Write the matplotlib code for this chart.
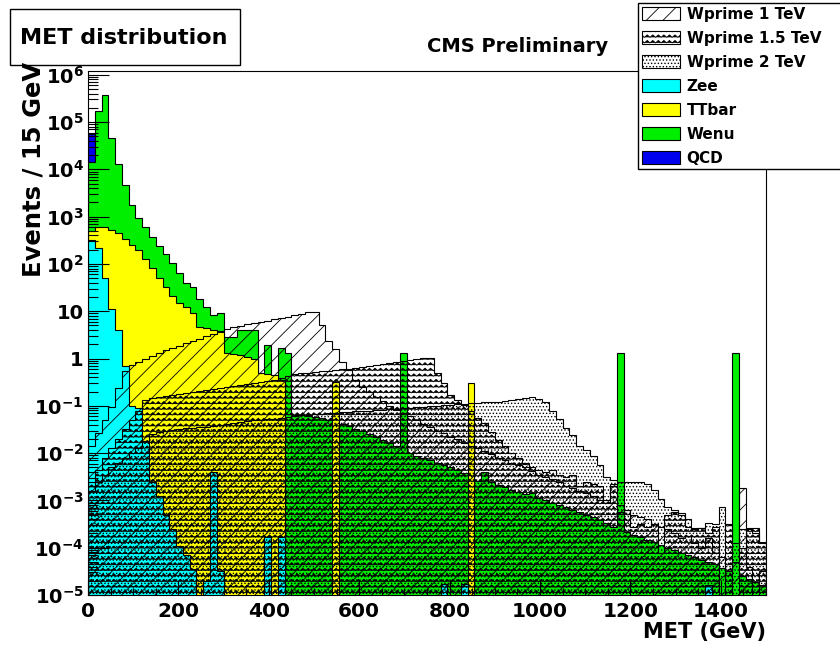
import numpy as np
import matplotlib
matplotlib.use("Agg")
import matplotlib.pyplot as plt
import matplotlib.hatch as mhatch
from matplotlib.path import Path
from matplotlib.patches import Patch, Rectangle
from matplotlib.ticker import FixedLocator, LogLocator, NullFormatter, MultipleLocator

# ---------------- data ----------------
met_low, met_high, n_bins = 0, 1500, 100

wenu = [1.4e4, 1.7e5, 3.8e5, 4.7e4, 1.3e4, 4.7e3, 1.8e3, 950, 600, 380,
        240, 160, 105, 63, 40, 32, 18, 12, 8.5, 9.3,
        2.9, 2.9, 4.1, 4.1, 4.1, 0.25, 1.95, 0.25, 1.7, 1.3,
        0.065, 0.063, 0.060, 0.058, 0.054, 0.050, 0.046, 0.042, 0.037, 0.033,
        0.029, 0.025, 0.022, 0.019, 0.016, 0.0138, 1.3, 0.010, 8.9e-3, 7.9e-3,
        7.1e-3, 6.3e-3, 5.6e-3, 5.0e-3, 4.4e-3, 3.8e-3, 3.3e-3, 2.6e-3, 4.0e-3, 2.4e-3,
        2.1e-3, 1.9e-3, 1.7e-3, 1.5e-3, 1.35e-3, 1.45e-3, 1.12e-3, 1.0e-3, 8.9e-4, 7.9e-4,
        7.1e-4, 6.3e-4, 5.6e-4, 5.0e-4, 4.5e-4, 3.8e-4, 3.3e-4, 2.8e-4, 1.3, 2.1e-4,
        1.9e-4, 1.66e-4, 1.48e-4, 1.32e-4, 1.12e-4, 1.0e-4, 8.9e-5, 7.9e-5, 7.1e-5, 6.3e-5,
        5.6e-5, 5.0e-5, 4.5e-5, 3.8e-5, 3.2e-5, 1.3, 2.5e-5, 2.2e-5, 1.9e-5, 1.6e-5]

ttbar = [500, 590, 590, 525, 450, 335, 255, 195, 125, 83,
         51, 33, 21, 15, 12, 9.3, 4.7, 4.5, 4.1, 3.7,
         1.3, 1.26, 1.2, 1.1, 1.0, 0.5, 0.48, 0.44, 0.35, 0,
         0, 0, 0, 0, 0, 0, 0.32, 0, 0, 0,
         0, 0, 0, 0, 0, 0, 0, 0, 0, 0,
         0, 0, 0, 0, 0, 0, 0.30, 0, 0, 0,
         0, 0, 0, 0, 0, 0, 0, 0, 0, 0,
         0, 0, 0, 0, 0, 0, 0, 0, 0, 0,
         0, 0, 0, 0, 0, 0, 0, 0, 0, 0,
         0, 0, 0, 0, 0, 0, 0, 0, 0, 0]

zee = [316, 220, 51, 11, 4.0, 0.7, 0.1, 0.09, 0.018, 2.5e-3,
       1.26e-3, 5.0e-4, 2.5e-4, 1.1e-4, 7.0e-5, 3.5e-5, 0, 2.0e-5, 4.0e-3, 3.2e-5,
       0, 0, 0, 0, 0, 0, 1.7e-4, 0, 1.7e-4, 0,
       0, 0, 0, 0, 0, 0, 0, 0, 0, 0,
       0, 0, 0, 0, 0, 0, 0, 0, 0, 0,
       0, 0, 1.7e-5, 0, 0, 1.7e-5, 0, 0, 0, 0,
       0, 0, 0, 0, 0, 0, 0, 0, 0, 0,
       0, 0, 0, 0, 0, 0, 0, 0, 0, 0,
       0, 0, 0, 0, 0, 0, 0, 0, 0, 0,
       0, 1.6e-5, 0, 0, 0, 0, 0, 0, 0, 0]

qcd = [5.6e4, 0, 0, 0, 0, 0, 0, 0, 0, 0,
       0, 0, 0, 0, 0, 0, 0, 0, 0, 0,
       0, 0, 0, 0, 0, 0, 0, 0, 0, 0,
       0, 0, 0, 0, 0, 0, 0, 0, 0, 0,
       0, 0, 0, 0, 0, 0, 0, 0, 0, 0,
       0, 0, 0, 0, 0, 0, 0, 0, 0, 0,
       0, 0, 0, 0, 0, 0, 0, 0, 0, 0,
       0, 0, 0, 0, 0, 0, 0, 0, 0, 0,
       0, 0, 0, 0, 0, 0, 0, 0, 0, 0,
       0, 0, 0, 0, 0, 0, 0, 0, 0, 0]

wprime_1 = [0.0138, 0.027, 0.051, 0.095, 0.24, 0.55, 0.74, 0.85, 0.98, 1.12,
            1.29, 1.48, 1.66, 1.86, 2.09, 2.34, 2.63, 2.95, 3.31, 3.8,
            4.27, 4.57, 4.9, 5.25, 5.62, 6.0, 6.3, 6.76, 7.24, 7.59,
            8.13, 8.9, 9.5, 9.8, 5.0, 2.4, 1.58, 0.83, 0.58, 0.355,
            0.25, 0.2, 0.15, 0.126, 0.1, 0.083, 0.071, 0.06, 0.05, 0.042,
            0.035, 0.03, 0.026, 0.022, 0.02, 0.0166, 0.0141, 0.0126, 0.011, 9.5e-3,
            7.9e-3, 7.1e-3, 6.3e-3, 5.6e-3, 5.0e-3, 4.2e-3, 3.5e-3, 3.2e-3, 2.8e-3, 2.4e-3,
            2.0e-3, 1.8e-3, 1.6e-3, 1.4e-3, 1.26e-3, 1.0e-3, 8.9e-4, 2.2e-3, 7.9e-4, 6.3e-4,
            5.0e-4, 4.5e-4, 4.0e-4, 3.2e-4, 2.8e-4, 2.5e-4, 2.0e-4, 1.6e-4, 1.8e-4, 1.26e-4,
            1.0e-4, 1.6e-4, 7.9e-5, 6.3e-5, 0, 5.0e-5, 1.8e-3, 4.0e-5, 0, 3.2e-5]

wprime_15 = [2.5e-3, 4.5e-3, 7.9e-3, 0.0126, 0.02, 0.032, 0.05, 0.079, 0.132, 0.145,
             0.151, 0.158, 0.166, 0.178, 0.186, 0.195, 0.204, 0.214, 0.224, 0.234,
             0.251, 0.263, 0.275, 0.288, 0.302, 0.316, 0.339, 0.355, 0.38, 0.417,
             0.48, 0.5, 0.5, 0.525, 0.537, 0.55, 0.562, 0.59, 0.6, 0.63,
             0.66, 0.69, 0.72, 0.76, 0.79, 0.83, 0.87, 0.93, 0.98, 1.02,
             1.05, 0.5, 0.31, 0.17, 0.135, 0.105, 0.079, 0.056, 0.044, 0.028,
             0.019, 0.0141, 0.01, 7.9e-3, 6.3e-3, 5.1e-3, 4.5e-3, 3.9e-3, 4.5e-3, 3.5e-3,
             3.2e-3, 3.5e-3, 2.0e-3, 2.5e-3, 2.2e-3, 2.0e-3, 1.0e-3, 2.0e-3, 5.6e-4, 6.3e-4,
             2.8e-4, 3.2e-4, 2.75e-4, 3.2e-4, 7.9e-5, 5.0e-4, 5.6e-4, 5.0e-4, 2.8e-4, 2.5e-4,
             2.6e-4, 2.0e-4, 2.8e-4, 0, 3.2e-4, 0, 1.0e-4, 2.5e-4, 2.6e-4, 1.26e-4]

wprime_2 = [1.6e-3, 2.5e-3, 3.5e-3, 5.0e-3, 6.3e-3, 7.9e-3, 0.01, 0.0126, 0.0178, 0.025,
            0.0275, 0.0295, 0.031, 0.0324, 0.0339, 0.0347, 0.0355, 0.0363, 0.038, 0.0389,
            0.0407, 0.0427, 0.0447, 0.0468, 0.049, 0.05, 0.0525, 0.0537, 0.0562, 0.0589,
            0.0617, 0.063, 0.0646, 0.066, 0.0676, 0.069, 0.0708, 0.0724, 0.0741, 0.0759,
            0.0776, 0.0794, 0.0813, 0.0832, 0.0851, 0.0871, 0.0891, 0.0912, 0.0933, 0.0955,
            0.0977, 0.1, 0.102, 0.105, 0.107, 0.11, 0.112, 0.117, 0.12, 0.12,
            0.123, 0.126, 0.135, 0.141, 0.148, 0.151, 0.138, 0.123, 0.079, 0.0525,
            0.0347, 0.024, 0.0138, 0.0117, 8.5e-3, 5.6e-3, 3.2e-3, 2.75e-3, 2.5e-3, 2.5e-3,
            2.5e-3, 2.4e-3, 2.2e-3, 1.7e-3, 1.05e-3, 7.4e-4, 6.3e-4, 5.5e-4, 4.0e-4, 2.6e-4,
            2.6e-4, 3.4e-4, 3.2e-4, 7.1e-4, 1.35e-4, 1.26e-4, 2.5e-4, 2.6e-4, 2.0e-4, 1.35e-4]

legend_labels = ["Wprime 1 TeV", "Wprime 1.5 TeV", "Wprime 2 TeV",
                 "Zee", "TTbar", "Wenu", "QCD"]
y_tick_values = [1e-5, 1e-4, 1e-3, 1e-2, 1e-1, 1, 10, 1e2, 1e3, 1e4, 1e5, 1e6]
y_tick_labels = [r"$\mathbf{10^{-5}}$", r"$\mathbf{10^{-4}}$", r"$\mathbf{10^{-3}}$",
                 r"$\mathbf{10^{-2}}$", r"$\mathbf{10^{-1}}$", "1", "10",
                 r"$\mathbf{10^{2}}$", r"$\mathbf{10^{3}}$", r"$\mathbf{10^{4}}$",
                 r"$\mathbf{10^{5}}$", r"$\mathbf{10^{6}}$"]
x_tick_values = [0, 200, 400, 600, 800, 1000, 1200, 1400]


# ---------------- wavy hatch (ROOT-like) for '-' ----------------
class WavyHatch(mhatch.HatchPatternBase):
    def __init__(self, hatch, density):
        self.num_lines = int(hatch.count('-') * density)
        self.nseg = 36
        self.num_vertices = self.num_lines * (self.nseg + 1)

    def set_vertices_and_codes(self, vertices, codes):
        steps, stepsize = np.linspace(0.0, 1.0, self.num_lines, False, retstep=True)
        steps += stepsize / 2.
        n = self.nseg + 1
        xs = np.linspace(0.0, 1.0, n)
        wave = np.where(np.arange(n) % 2 == 0, -1.0, 1.0) * stepsize * 0.22
        for i, s in enumerate(steps):
            vertices[i * n:(i + 1) * n, 0] = xs
            vertices[i * n:(i + 1) * n, 1] = s + wave
            codes[i * n] = Path.MOVETO
            codes[i * n + 1:(i + 1) * n] = Path.LINETO


wavy = '---'
try:
    mhatch._hatch_types[mhatch._hatch_types.index(mhatch.HorizontalHatch)] = WavyHatch
except Exception:
    wavy = 'xxx'

# ---------------- style ----------------
plt.rcParams['font.family'] = ['DejaVu Sans']
plt.rcParams['font.weight'] = 'bold'
plt.rcParams['mathtext.fontset'] = 'dejavusans'
plt.rcParams['hatch.linewidth'] = 0.6

col_zee = '#00ffff'
col_tt = '#ffff00'
col_wenu = '#00ee00'
col_qcd = '#0000ee'

fig = plt.figure(figsize=(8.4, 6.55), dpi=100)
ax = fig.add_axes([88/840, 60/655, 678/840, 524/655])
ax.set_yscale('log')

edges = np.linspace(met_low, met_high, n_bins + 1)
floor = 1e-9


def draw(vals, z, face, hatch=None):
    v = np.asarray(vals, dtype=float)
    v = np.where(v > 0, v, floor)
    ax.stairs(v, edges, baseline=floor, fill=True, facecolor=face,
              edgecolor='black', linewidth=0.8, hatch=hatch, zorder=z)


draw(qcd, 0.9, col_qcd)
draw(wenu, 1.0, col_wenu)
draw(ttbar, 1.1, col_tt)
draw(zee, 1.2, col_zee)
draw(wprime_2, 1.4, 'none', '.....')
draw(wprime_15, 1.5, 'none', wavy)
draw(wprime_1, 1.6, 'none', '//')

ax.set_xlim(met_low, met_high)
ax.set_ylim(1e-5, 1.2e6)

ax.yaxis.set_major_locator(FixedLocator(y_tick_values))
ax.set_yticklabels(y_tick_labels)
ax.yaxis.set_minor_locator(LogLocator(base=10, subs=np.arange(2, 10), numticks=30))
ax.yaxis.set_minor_formatter(NullFormatter())
ax.xaxis.set_major_locator(FixedLocator(x_tick_values))
ax.xaxis.set_minor_locator(MultipleLocator(50))

ax.tick_params(axis='both', which='both', direction='in', top=False, right=False,
               width=0.8, labelsize=14)
ax.tick_params(axis='y', which='major', length=15, pad=3)
ax.tick_params(axis='y', which='minor', length=7.5)
ax.tick_params(axis='x', which='major', length=10.5, pad=5)
ax.tick_params(axis='x', which='minor', length=5)
ax.tick_params(axis='x', labelsize=14.5)
for lab in ax.get_xticklabels() + ax.get_yticklabels():
    lab.set_fontweight('bold')
for sp in ax.spines.values():
    sp.set_linewidth(0.8)

# axis titles
fig.text(766/840, 1 - 632/655, "MET (GeV)", ha='right', va='center',
         fontsize=15, fontweight='bold')
fig.text(34/840, 1 - 62/655, "Events / 15 GeV", ha='center', va='top',
         rotation=90, fontsize=17.5, fontweight='bold')

# title box
fig.add_artist(Rectangle((10/840, 1 - 65/655), 230/840, 56/655,
                         transform=fig.transFigure, facecolor='white',
                         edgecolor='black', linewidth=1.0))
fig.text(124/840, 1 - 38/655, "MET distribution", ha='center', va='center',
         fontsize=16, fontweight='bold')
fig.text(518/840, 1 - 46/655, "CMS Preliminary", ha='center', va='center',
         fontsize=14, fontweight='bold')

# legend
handles = [
    Patch(facecolor='white', edgecolor='black', hatch='//', linewidth=0.8),
    Patch(facecolor='white', edgecolor='black', hatch=wavy, linewidth=0.8),
    Patch(facecolor='white', edgecolor='black', hatch='.....', linewidth=0.8),
    Patch(facecolor=col_zee, edgecolor='black', linewidth=0.8),
    Patch(facecolor=col_tt, edgecolor='black', linewidth=0.8),
    Patch(facecolor=col_wenu, edgecolor='black', linewidth=0.8),
    Patch(facecolor=col_qcd, edgecolor='black', linewidth=0.8),
]
leg = fig.legend(handles, legend_labels, loc='upper left',
                 bbox_to_anchor=(638/840, 1 - 3/655 - 0.01, 205/840, 0.01), mode='expand',
                 fontsize=11, frameon=True, fancybox=False, edgecolor='black',
                 framealpha=1, borderpad=0.24, labelspacing=0.59, handlelength=2.5,
                 handleheight=0.95, handletextpad=0.45, borderaxespad=0)
leg.get_frame().set_linewidth(1.0)
for t in leg.get_texts():
    t.set_fontweight('bold')

fig.savefig("out.png", dpi=100)
